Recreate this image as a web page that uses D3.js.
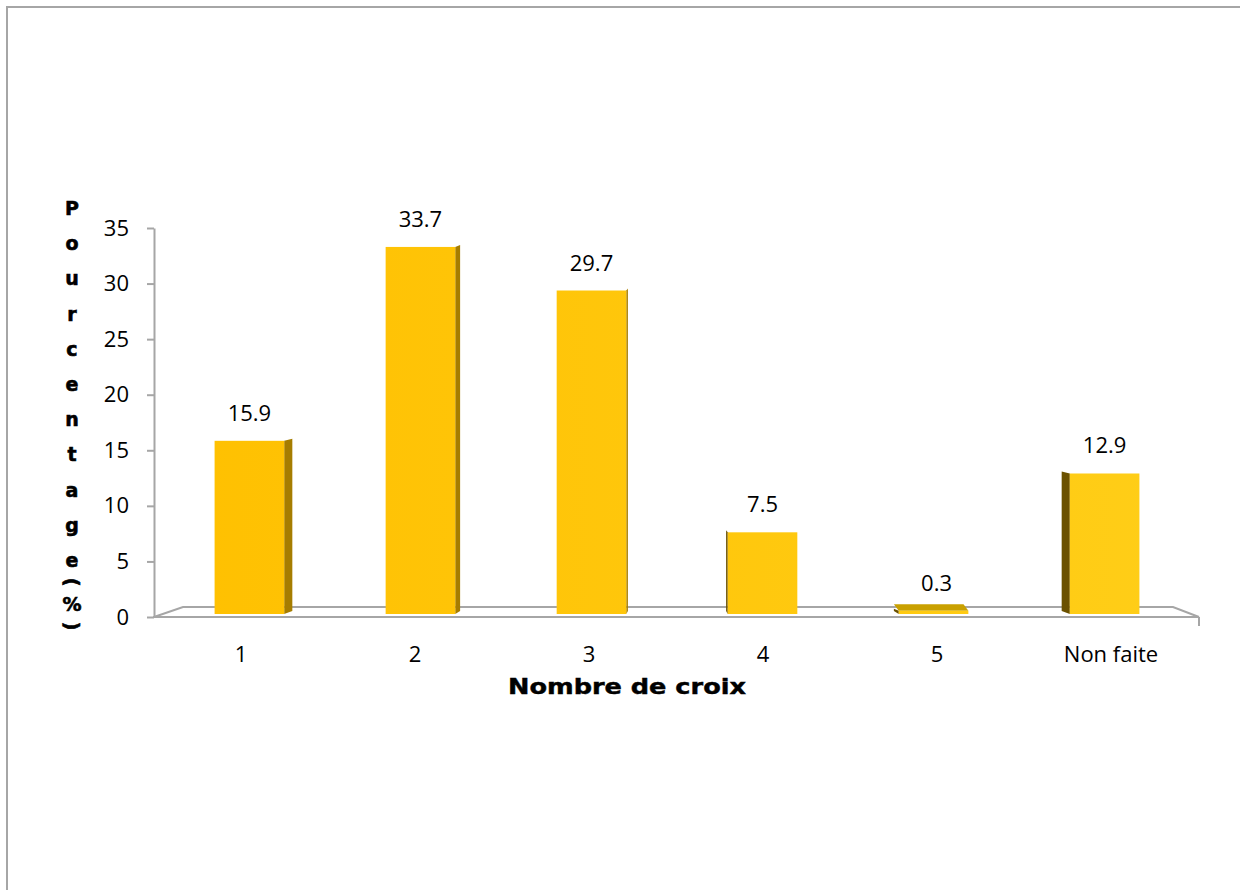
<!DOCTYPE html>
<html>
<head>
<meta charset="utf-8">
<script src="https://cdn.jsdelivr.net/npm/d3@7/dist/d3.min.js"></script>
<style>
  html, body { margin: 0; padding: 0; background: #fff; }
  svg { display: block; }
</style>
</head>
<body>
<svg id="chart" width="1240" height="890"></svg>
<script>
// Répartition selon le nombre de croix
const categories = ["1", "2", "3", "4", "5", "Non faite"];
const values = [15.9, 33.7, 29.7, 7.5, 0.3, 12.9];
const valueLabels = ["15.9", "33.7", "29.7", "7.5", "0.3", "12.9"];
const yTicks = [0, 5, 10, 15, 20, 25, 30, 35];
const yTitle = "Pourcentage (%)";
const xTitle = "Nombre de croix";

(function draw() {
  const svg = d3.select("#chart");
  const W = 1240, H = 890;

  // Plot area
  const plotLeft = 154, plotRight = 1198, plotTop = 228, plotBottom = 617;
  const floorDepth = { dx: 29, dy: -10 };   // 3D floor receding to the back
  const barDepthDy = -3;                    // bars sit mid-depth on the floor
  const depthShrink = 0.98;                 // bars further back look slightly shorter
  const vanishX = 676;                      // perspective centre for bar sides
  const eyeY = 560;                         // tops below this line are visible

  const x = d3.scaleBand().domain(categories).range([plotLeft, plotRight])
    .paddingInner(0.6).paddingOuter(0.3);
  const y = d3.scaleLinear().domain([0, 35]).range([plotBottom, plotTop]);

  const y0 = y(0);
  const barBase = y0 + barDepthDy;
  const yBar = d3.scaleLinear().domain([0, 35])
    .range([barBase, barBase - (y0 - y(35)) * depthShrink]);

  const grey = "#A6A6A6";
  const font = "'Open Sans', 'Noto Sans', sans-serif";

  // Outer frame of the chart area
  svg.append("rect")
    .attr("x", 7).attr("y", 7).attr("width", W + 20).attr("height", H + 20)
    .attr("fill", "none").attr("stroke", grey).attr("stroke-width", 2);

  // Front face gradient, shared across the plot width
  const defs = svg.append("defs");
  const grad = defs.append("linearGradient").attr("id", "front")
    .attr("gradientUnits", "userSpaceOnUse")
    .attr("x1", plotLeft).attr("x2", plotRight).attr("y1", 0).attr("y2", 0);
  grad.append("stop").attr("offset", "0%").attr("stop-color", "#FFC000");
  grad.append("stop").attr("offset", "100%").attr("stop-color", "#FFCE18");

  // Floor of the 3D plot
  const floor = svg.append("g").attr("fill", "none").attr("stroke", grey).attr("stroke-width", 2);
  floor.append("path").attr("d", d3.line()([
    [plotLeft, y0],
    [plotLeft + floorDepth.dx, y0 + floorDepth.dy],
    [plotRight - floorDepth.dx + 4, y0 + floorDepth.dy],
    [plotRight + 1, y0]
  ]));
  floor.append("line")
    .attr("x1", plotRight + 1).attr("x2", plotRight + 1)
    .attr("y1", y0).attr("y2", y0 + 9);

  // Y axis
  const yAxis = svg.append("g")
    .attr("transform", `translate(${plotLeft},0)`)
    .call(d3.axisLeft(y).tickValues(yTicks).tickSize(7).tickPadding(18).tickSizeOuter(0));
  yAxis.select(".domain").attr("stroke", grey).attr("stroke-width", 2);
  yAxis.selectAll(".tick line").attr("stroke", grey).attr("stroke-width", 2);
  yAxis.selectAll(".tick text")
    .attr("font-family", font).attr("font-size", 22).attr("fill", "#000");

  // X axis line (front edge of the floor)
  svg.append("line")
    .attr("x1", plotLeft - 1).attr("x2", plotRight + 1)
    .attr("y1", y0).attr("y2", y0)
    .attr("stroke", grey).attr("stroke-width", 2);

  // Category labels
  const xAxis = svg.append("g")
    .attr("transform", `translate(0,${y0})`)
    .call(d3.axisBottom(x).tickSize(0).tickPadding(29));
  xAxis.select(".domain").remove();
  xAxis.selectAll(".tick text")
    .attr("font-family", font).attr("font-size", 22).attr("fill", "#000");

  // Bars
  const bars = svg.append("g");
  categories.forEach((c, i) => {
    const v = values[i];
    const cx = x(c) + x.bandwidth() / 2;
    const shift = 1 + (vanishX - cx) * 0.017;
    const x0 = x(c) + shift, x1 = x0 + x.bandwidth();
    const yTopBar = yBar(v);
    const side = (vanishX - cx) * 0.0187;
    const g = bars.append("g");

    // side face
    if (Math.abs(side) > 0.5) {
      const ex = side > 0 ? x1 : x0;
      g.append("path")
        .attr("d", d3.line()([
          [ex, yTopBar], [ex + side, yTopBar + barDepthDy + 1],
          [ex + side, barBase + barDepthDy], [ex, barBase]
        ]) + "Z")
        .attr("fill", side > 0 ? "#A67D00" : "#6B5100");
    }
    // top face, only visible below eye level
    if (yTopBar > eyeY) {
      const tdy = -(yTopBar - eyeY) * 0.13;
      g.append("path")
        .attr("d", d3.line()([
          [x0, yTopBar], [x1, yTopBar], [x1 + side, yTopBar + tdy], [x0 + side, yTopBar + tdy]
        ]) + "Z")
        .attr("fill", "#C9A000");
    }
    // front face
    g.append("rect")
      .attr("x", x0).attr("y", yTopBar)
      .attr("width", x1 - x0).attr("height", Math.max(barBase - yTopBar, 0))
      .attr("fill", "url(#front)");

    // value label
    svg.append("text")
      .attr("x", (x0 + x1) / 2 + (yTopBar > eyeY ? 3 : 0))
      .attr("y", yTopBar - 20)
      .attr("text-anchor", "middle")
      .attr("font-family", font).attr("font-size", 22).attr("fill", "#000")
      .text(valueLabels[i]);
  });

  // X axis title
  svg.append("text")
    .attr("x", 627).attr("y", 694)
    .attr("text-anchor", "middle")
    .attr("font-family", "'DejaVu Sans', sans-serif")
    .attr("font-weight", "bold").attr("font-size", 22)
    .attr("stroke", "#000").attr("stroke-width", 0.45)
    .attr("textLength", 238).attr("lengthAdjust", "spacingAndGlyphs")
    .text(xTitle);

  // Y axis title, characters stacked vertically
  const chars = Array.from(yTitle).filter(ch => ch !== " ");
  const titleG = svg.append("g")
    .attr("font-family", "'DejaVu Sans', sans-serif")
    .attr("font-weight", "bold").attr("font-size", 19)
    .attr("fill", "#000").attr("stroke", "#000").attr("stroke-width", 0.6);
  let cy = 208;
  chars.forEach((ch, i) => {
    if (ch === "(" || ch === ")") {
      titleG.append("text")
        .attr("transform", `translate(72,${cy}) rotate(90)`)
        .attr("text-anchor", "middle").attr("dominant-baseline", "central")
        .text(ch);
    } else {
      titleG.append("text")
        .attr("x", 72).attr("y", cy)
        .attr("text-anchor", "middle").attr("dominant-baseline", "central")
        .text(ch);
    }
    const next = chars[i + 1];
    if (next === "(" || ch === "(" || next === ")") cy += 22; else cy += 35.2;
  });
})();
</script>
</body>
</html>
